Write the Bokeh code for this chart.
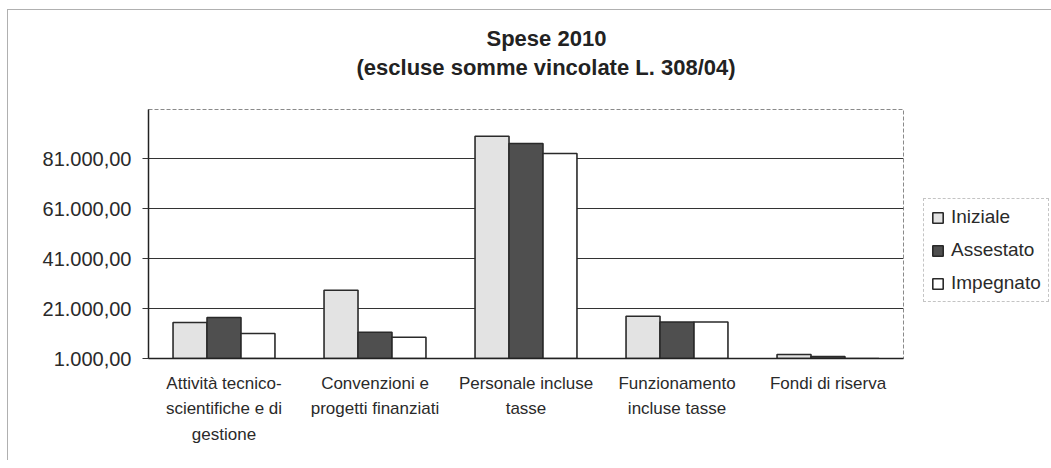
from bokeh.plotting import figure
from bokeh.models import (ColumnDataSource, FactorRange, Range1d, FixedTicker,
                          Legend, LegendItem, Title)
from bokeh.transform import dodge
from bokeh.embed import file_html
from bokeh.resources import INLINE

categories = [
    "Attività tecnico-\nscientifiche e di\ngestione",
    "Convenzioni e\nprogetti finanziati",
    "Personale incluse\ntasse",
    "Funzionamento\nincluse tasse",
    "Fondi di riserva",
]
iniziale = [15400, 28300, 89900, 17900, 2600]
assestato = [17400, 11500, 87000, 15600, 1800]
impegnato = [11000, 9500, 83000, 15600, 0]
series_names = ["Iniziale", "Assestato", "Impegnato"]
y_ticks = [1000, 21000, 41000, 61000, 81000]
y_tick_labels = ["1.000,00", "21.000,00", "41.000,00", "61.000,00", "81.000,00"]
title_lines = ["Spese 2010", "(escluse somme vincolate L. 308/04)"]

src = ColumnDataSource(dict(cat=categories, ini=iniziale, ass=assestato, imp=impegnato))

FONT = "Liberation Sans"
p = figure(frame_width=755, frame_height=249, x_range=FactorRange(*categories),
           y_range=Range1d(1000, 100600), output_backend="svg",
           toolbar_location=None, min_border_left=148, min_border_right=140,
           min_border_top=109, min_border_bottom=102)
p.background_fill_color = "white"
p.border_fill_color = "white"
p.border_fill_alpha = 0
p.outline_line_color = "#8a8a8a"
p.outline_line_dash = "4 2"
p.outline_line_width = 1
p.styles = {
    "background": "linear-gradient(#b0b0b0,#b0b0b0) 7px 9px / 1px 470px no-repeat, "
                  "linear-gradient(#b0b0b0,#b0b0b0) 7px 9px / 1100px 1px no-repeat, white"
}

bw = 0.225
cols = ["ini", "ass", "imp"]
fills = ["#e3e3e3", "#4f4f4f", "#ffffff"]
offsets = [-bw, 0.0, bw]
renderers = []
for c, f, o in zip(cols, fills, offsets):
    r = p.vbar(x=dodge("cat", o, range=p.x_range), top=c, bottom=0, width=bw,
               source=src, fill_color=f, line_color="#2a2a2a", line_width=1.6)
    renderers.append(r)

# axes
p.xgrid.grid_line_color = None
p.ygrid.grid_line_color = "#333333"
p.ygrid.grid_line_width = 1.2
p.yaxis.ticker = FixedTicker(ticks=y_ticks)
p.yaxis.major_label_overrides = {t: l for t, l in zip(y_ticks, y_tick_labels)}
p.yaxis.minor_tick_line_color = None
p.yaxis.major_tick_out = 6
p.yaxis.major_tick_in = 0
p.yaxis.major_tick_line_color = "#333333"
p.yaxis.axis_line_color = "#222222"
p.yaxis.axis_line_width = 1.5
p.yaxis.major_label_standoff = 11
p.yaxis.major_label_text_font = FONT
p.yaxis.major_label_text_font_size = "20px"
p.yaxis.major_label_text_color = "#2a2a2a"

p.xaxis.major_tick_line_color = None
p.xaxis.major_tick_out = 0
p.xaxis.axis_line_color = "#222222"
p.xaxis.axis_line_width = 1.5
p.xaxis.major_label_standoff = 15
p.xaxis.major_label_text_font = FONT
p.xaxis.major_label_text_font_size = "17px"
p.xaxis.major_label_text_color = "#2a2a2a"
p.xaxis.major_label_text_line_height = 1.36
p.xaxis.major_label_orientation = "horizontal"

# title: spacer + two lines, each centred near x=546 (left-aligned with computed offsets)
spacer = Title(text=" ", standoff=27, text_font_size="1px", text_color="white")
t2 = Title(text=title_lines[1], align="left", offset=208, standoff=0,
           text_font=FONT, text_font_style="bold", text_font_size="22px",
           text_color="#222222")
t1 = Title(text=title_lines[0], align="left", offset=338, standoff=4,
           text_font=FONT, text_font_style="bold", text_font_size="22px",
           text_color="#222222")
p.add_layout(spacer, "above")
p.add_layout(t2, "above")
p.add_layout(t1, "above")

# legend in the right panel
legend = Legend(items=[LegendItem(label=n, renderers=[r]) for n, r in zip(series_names, renderers)],
                location=(20, 56), orientation="vertical",
                glyph_width=13, glyph_height=13, label_height=20, spacing=11,
                padding=7, margin=0, label_standoff=7,
                label_text_font=FONT, label_text_font_size="19px",
                label_text_color="#2a2a2a",
                border_line_color="#8a8a8a", border_line_dash="4 2",
                border_line_width=1, background_fill_color="white",
                background_fill_alpha=1)
p.add_layout(legend, "right")

open("out.html", "w").write(file_html(p, INLINE))
